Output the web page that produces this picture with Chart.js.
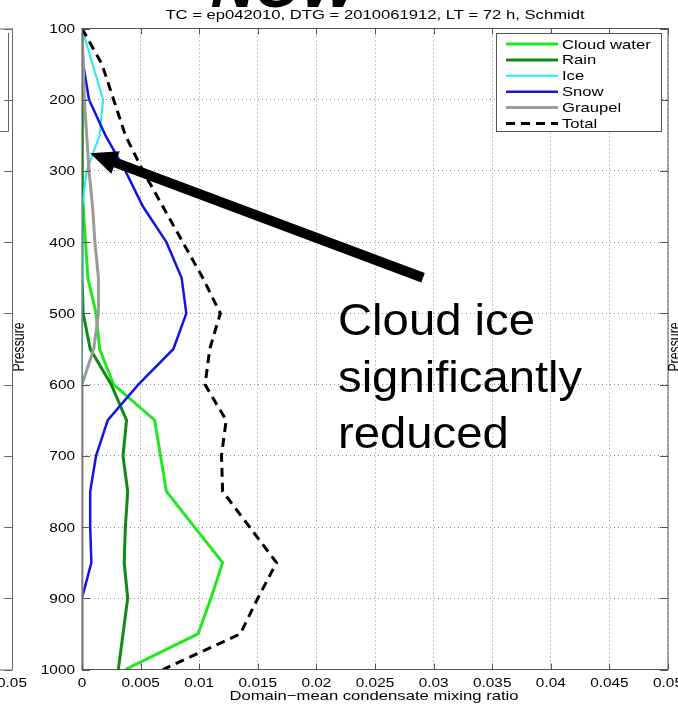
<!DOCTYPE html>
<html>
<head>
<meta charset="utf-8">
<script src="https://cdn.jsdelivr.net/npm/chart.js@4"></script>
<style>
  html, body { margin: 0; padding: 0; background: #fff; }
  canvas { display: block; }
</style>
</head>
<body>
<canvas id="mixingChart" width="678" height="705"></canvas>
<script>
// Pressure levels (hPa) and domain-mean mixing ratios
const pressure   = [100, 150, 200, 250, 300, 350, 400, 450, 500, 550, 600, 650, 700, 750, 800, 850, 900, 950, 1000];
const cloudWater = [0, 0, 0, 0.00005, 0.00005, 0.0001, 0.0003, 0.0005, 0.0012, 0.0015, 0.0027, 0.0062, 0.0067, 0.0072, 0.0096, 0.012, 0.011, 0.0099, 0.0037];
const rain       = [0, 0, 0, 0, 0, 0, 0, 0, 0.0001, 0.0007, 0.0025, 0.0038, 0.0035, 0.0039, 0.0037, 0.0036, 0.0039, 0.0035, 0.0031];
const ice        = [0, 0.0009, 0.0018, 0.0015, 0.0004, 0, 0, 0, 0, 0, 0, 0, 0, 0, 0, 0, 0, 0, 0];
const snow       = [0, 0.0001, 0.0006, 0.002, 0.0037, 0.0052, 0.0072, 0.0085, 0.0089, 0.0078, 0.0048, 0.0022, 0.0012, 0.0007, 0.0007, 0.0008, 0, 0, 0];
const graupel    = [0, 0.0001, 0.0002, 0.0004, 0.0006, 0.0009, 0.0011, 0.0014, 0.0014, 0.001, 0, 0, 0, 0, 0, 0, 0, 0, 0];
const total      = [0, 0.0017, 0.0027, 0.0037, 0.0052, 0.0069, 0.0086, 0.0103, 0.0118, 0.0109, 0.0105, 0.0123, 0.0119, 0.012, 0.0143, 0.0166, 0.015, 0.0135, 0.0069];

const seriesLabels = ['Cloud water', 'Rain', 'Ice', 'Snow', 'Graupel', 'Total'];
const seriesValues = [cloudWater, rain, ice, snow, graupel, total];
const seriesColors = ['#1fe81f', '#108a10', '#22eeee', '#1414e6', '#9a9a9a', '#000000'];
const seriesWidths = [3, 3, 2, 2.5, 3, 3];

const titleText = 'TC = ep042010, DTG = 2010061912, LT = 72 h, Schmidt';
const xTitle = 'Domain\u2212mean condensate mixing ratio';
const yTitle = 'Pressure';
const noteLines = ['Cloud ice', 'significantly', 'reduced'];
// arrow from the note to the reduced ice profile (data coords)
const arrowTail = { x: 0.0291, y: 450 };
const arrowTip = { x: 0.0007, y: 275 };

const FONT = "'Liberation Sans', Arial, sans-serif";
const SX = 1.28; // the original figure is stretched sideways

function stretchText(ctx, text, x, y, size, align, baseline, sx, style) {
    ctx.save();
    ctx.translate(x, y);
    ctx.scale(sx, 1);
    ctx.font = (style || '') + ' ' + size + 'px ' + FONT;
    ctx.textAlign = align;
    ctx.textBaseline = baseline;
    ctx.fillStyle = '#000';
    ctx.fillText(text, 0, 0);
    ctx.restore();
}

function vertText(ctx, text, x, y, size) {
    ctx.save();
    ctx.translate(x, y);
    ctx.rotate(-Math.PI / 2);
    ctx.scale(1, SX);
    ctx.font = size + 'px ' + FONT;
    ctx.textAlign = 'center';
    ctx.textBaseline = 'middle';
    ctx.fillStyle = '#000';
    ctx.fillText(text, 0, 0);
    ctx.restore();
}

const matlabLook = {
    id: 'matlabLook',
    beforeDraw(chart) {
        const ctx = chart.ctx;
        ctx.save();
        ctx.fillStyle = '#fff';
        ctx.fillRect(0, 0, chart.width, chart.height);
        ctx.restore();
    },
    afterDatasetsDraw(chart) {
        const ctx = chart.ctx;
        const a = chart.chartArea;
        const xs = chart.scales.x, ys = chart.scales.y;

        // axes box + inward ticks
        ctx.save();
        ctx.strokeStyle = '#555';
        ctx.lineWidth = 1;
        ctx.strokeRect(a.left, a.top, a.right - a.left, a.bottom - a.top);
        ctx.beginPath();
        xs.ticks.forEach(t => {
            const px = Math.round(xs.getPixelForValue(t.value)) + 0.5;
            ctx.moveTo(px, a.bottom); ctx.lineTo(px, a.bottom - 6);
            ctx.moveTo(px, a.top); ctx.lineTo(px, a.top + 6);
        });
        ys.ticks.forEach(t => {
            const py = Math.round(ys.getPixelForValue(t.value)) + 0.5;
            ctx.moveTo(a.left, py); ctx.lineTo(a.left + 8, py);
            ctx.moveTo(a.right, py); ctx.lineTo(a.right - 8, py);
        });
        ctx.stroke();
        ctx.restore();

        // tick labels
        xs.ticks.forEach(t => {
            const lbl = t.value === 0 ? '0' : String(+t.value.toFixed(3));
            stretchText(ctx, lbl, xs.getPixelForValue(t.value), 687, 12, 'center', 'alphabetic', SX);
        });
        ys.ticks.forEach(t => {
            stretchText(ctx, String(t.value), 75, ys.getPixelForValue(t.value) + 4.5, 12, 'right', 'alphabetic', SX);
        });

        // titles
        stretchText(ctx, titleText, 375, 18.5, 13, 'center', 'alphabetic', SX);
        stretchText(ctx, xTitle, 374, 700, 13, 'center', 'alphabetic', SX);
        vertText(ctx, yTitle, 19.5, 347, 12.3);

        // legend
        const lx = 496, ly = 33, lw = 165, lh = 98;
        ctx.save();
        ctx.fillStyle = '#fff';
        ctx.fillRect(lx, ly, lw, lh);
        ctx.strokeStyle = '#555';
        ctx.lineWidth = 1;
        ctx.strokeRect(lx + 0.5, ly + 0.5, lw, lh);
        chart.data.datasets.forEach((ds, i) => {
            const yy = 44 + i * 15.9;
            ctx.beginPath();
            ctx.strokeStyle = ds.borderColor;
            ctx.lineWidth = ds.borderWidth;
            ctx.setLineDash(ds.borderDash || []);
            ctx.moveTo(506, yy); ctx.lineTo(558, yy);
            ctx.stroke();
            ctx.setLineDash([]);
            stretchText(ctx, ds.label, 562, yy + 4.5, 13, 'left', 'alphabetic', SX);
        });
        ctx.restore();

        // arrow
        const tx = xs.getPixelForValue(arrowTip.x), ty = ys.getPixelForValue(arrowTip.y);
        const fx = xs.getPixelForValue(arrowTail.x), fy = ys.getPixelForValue(arrowTail.y);
        const len = Math.hypot(tx - fx, ty - fy);
        const ux = (tx - fx) / len, uy = (ty - fy) / len;
        const headLen = 27, headHalf = 12;
        const bx = tx - ux * headLen, by = ty - uy * headLen;
        ctx.save();
        ctx.strokeStyle = '#000';
        ctx.fillStyle = '#000';
        ctx.lineWidth = 10;
        ctx.lineCap = 'butt';
        ctx.beginPath();
        ctx.moveTo(fx, fy);
        ctx.lineTo(bx + ux * 2, by + uy * 2);
        ctx.stroke();
        ctx.beginPath();
        ctx.moveTo(tx, ty);
        ctx.lineTo(bx - uy * headHalf, by + ux * headHalf);
        ctx.lineTo(bx + uy * headHalf, by - ux * headHalf);
        ctx.closePath();
        ctx.fill();
        ctx.restore();

        // slide note
        noteLines.forEach((line, i) => {
            stretchText(ctx, line, 338, 335 + i * 56.5, 45, 'left', 'alphabetic', 1.05);
        });

        // big slide heading, mostly cut off at the top
        stretchText(ctx, 'NOW', 284, 7, 60, 'center', 'alphabetic', 1, 'italic bold');

        // bits of the neighbouring panels
        ctx.save();
        ctx.strokeStyle = '#666';
        ctx.lineWidth = 1;
        ctx.beginPath();
        ctx.moveTo(12.5, a.top); ctx.lineTo(12.5, a.bottom);
        ctx.moveTo(0, a.top + 0.5); ctx.lineTo(12.5, a.top + 0.5);
        ctx.moveTo(0, a.bottom + 0.5); ctx.lineTo(12.5, a.bottom + 0.5);
        ys.ticks.forEach(t => {
            const py = Math.round(ys.getPixelForValue(t.value)) + 0.5;
            ctx.moveTo(12.5, py); ctx.lineTo(4, py);
        });
        ctx.moveTo(8.5, 33); ctx.lineTo(8.5, 131.5); ctx.lineTo(0, 131.5);
        ctx.stroke();
        ctx.restore();
        stretchText(ctx, '0.05', 12, 687, 12, 'center', 'alphabetic', SX);
        vertText(ctx, yTitle, 675.5, 347, 12.3);
    }
};

document.addEventListener('DOMContentLoaded', function() {
    const ctx = document.getElementById('mixingChart').getContext('2d');

    const datasets = seriesLabels.map((label, i) => ({
        label: label,
        data: pressure.map((p, j) => ({ x: seriesValues[i][j], y: p })),
        borderColor: seriesColors[i],
        backgroundColor: seriesColors[i],
        borderWidth: seriesWidths[i],
        borderDash: label === 'Total' ? [9, 6] : undefined,
        showLine: true,
        pointRadius: 0,
        tension: 0,
        fill: false,
        order: seriesLabels.length - 1 - i   // later series drawn on top, like MATLAB
    }));

    new Chart(ctx, {
        type: 'scatter',
        data: { datasets: datasets },
        options: {
            responsive: false,
            animation: false,
            devicePixelRatio: 1,
            layout: {
                padding: { top: 28.5, right: 10, bottom: 0, left: 0 }
            },
            plugins: {
                legend: { display: false },
                tooltip: { enabled: false },
                title: { display: false }
            },
            scales: {
                x: {
                    type: 'linear',
                    min: 0,
                    max: 0.05,
                    ticks: { display: false, stepSize: 0.005 },
                    grid: { color: '#8a8a8a', lineWidth: 1, drawTicks: false },
                    border: { display: false, dash: [1, 3] },
                    afterFit: function(scale) { scale.height = 35.5; }
                },
                y: {
                    type: 'linear',
                    min: 100,
                    max: 1000,
                    reverse: true,
                    ticks: { display: false, stepSize: 100 },
                    grid: { color: '#8a8a8a', lineWidth: 1, drawTicks: false },
                    border: { display: false, dash: [1, 3] },
                    afterFit: function(scale) { scale.width = 82; }
                }
            }
        },
        plugins: [matlabLook]
    });
});
</script>
</body>
</html>
